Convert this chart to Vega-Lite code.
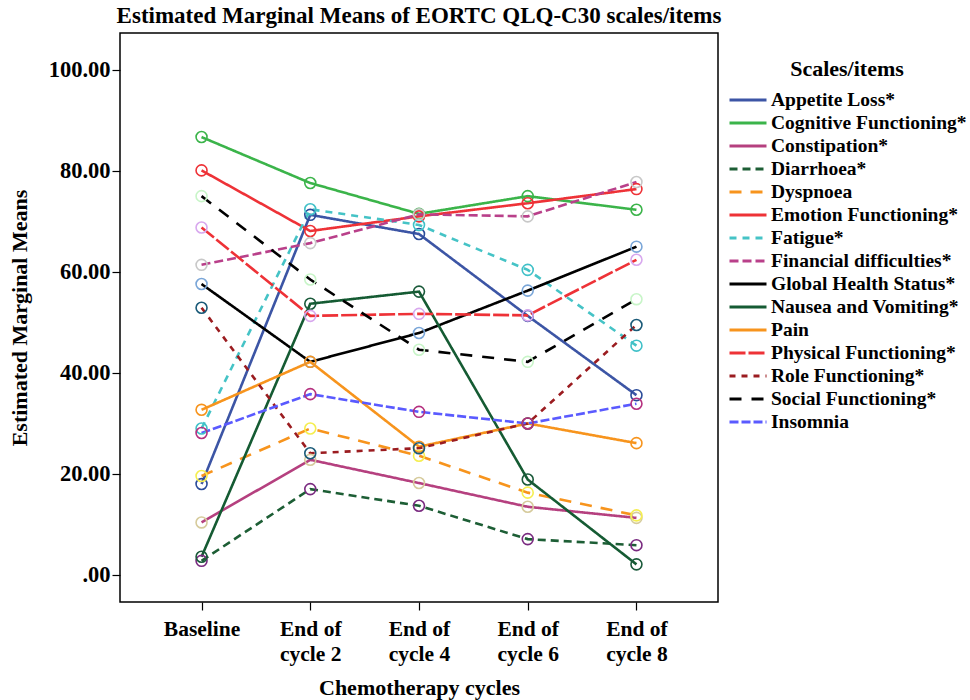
{
  "$schema": "https://vega.github.io/schema/vega-lite/v6.json",
  "autosize": "none",
  "width": 598,
  "height": 569,
  "padding": {"left": 120, "top": 33, "right": 252, "bottom": 98},
  "background": "white",
  "config": {
    "font": "Liberation Serif",
    "view": {"stroke": "black", "strokeWidth": 1.5},
    "axis": {"labelFont": "Liberation Serif", "titleFont": "Liberation Serif", "labelFontWeight": "bold", "titleFontWeight": "bold", "labelColor": "black", "titleColor": "black", "domain": false, "grid": false, "tickColor": "black", "tickWidth": 1.2, "tickSize": 8}
  },
  "title": {"text": "Estimated Marginal Means of EORTC QLQ-C30 scales/items", "font": "Liberation Serif", "fontSize": 23, "fontWeight": "bold", "color": "black", "anchor": "middle", "offset": 5},
  "data": {"values": [
    {"scale": "Appetite Loss*", "cycle": "Baseline", "value": 18.0},
    {"scale": "Appetite Loss*", "cycle": "End of cycle 2", "value": 71.3},
    {"scale": "Appetite Loss*", "cycle": "End of cycle 4", "value": 67.5},
    {"scale": "Appetite Loss*", "cycle": "End of cycle 6", "value": 51.3},
    {"scale": "Appetite Loss*", "cycle": "End of cycle 8", "value": 35.6},
    {"scale": "Cognitive Functioning*", "cycle": "Baseline", "value": 86.7},
    {"scale": "Cognitive Functioning*", "cycle": "End of cycle 2", "value": 77.6},
    {"scale": "Cognitive Functioning*", "cycle": "End of cycle 4", "value": 71.5},
    {"scale": "Cognitive Functioning*", "cycle": "End of cycle 6", "value": 75.0},
    {"scale": "Cognitive Functioning*", "cycle": "End of cycle 8", "value": 72.3},
    {"scale": "Constipation*", "cycle": "Baseline", "value": 10.4},
    {"scale": "Constipation*", "cycle": "End of cycle 2", "value": 22.8},
    {"scale": "Constipation*", "cycle": "End of cycle 4", "value": 18.2},
    {"scale": "Constipation*", "cycle": "End of cycle 6", "value": 13.5},
    {"scale": "Constipation*", "cycle": "End of cycle 8", "value": 11.3},
    {"scale": "Diarrhoea*", "cycle": "Baseline", "value": 2.8},
    {"scale": "Diarrhoea*", "cycle": "End of cycle 2", "value": 17.0},
    {"scale": "Diarrhoea*", "cycle": "End of cycle 4", "value": 13.7},
    {"scale": "Diarrhoea*", "cycle": "End of cycle 6", "value": 7.1},
    {"scale": "Diarrhoea*", "cycle": "End of cycle 8", "value": 5.9},
    {"scale": "Dyspnoea", "cycle": "Baseline", "value": 19.6},
    {"scale": "Dyspnoea", "cycle": "End of cycle 2", "value": 29.0},
    {"scale": "Dyspnoea", "cycle": "End of cycle 4", "value": 23.6},
    {"scale": "Dyspnoea", "cycle": "End of cycle 6", "value": 16.3},
    {"scale": "Dyspnoea", "cycle": "End of cycle 8", "value": 11.8},
    {"scale": "Emotion Functioning*", "cycle": "Baseline", "value": 80.1},
    {"scale": "Emotion Functioning*", "cycle": "End of cycle 2", "value": 68.1},
    {"scale": "Emotion Functioning*", "cycle": "End of cycle 4", "value": 71.0},
    {"scale": "Emotion Functioning*", "cycle": "End of cycle 6", "value": 73.6},
    {"scale": "Emotion Functioning*", "cycle": "End of cycle 8", "value": 76.4},
    {"scale": "Fatigue*", "cycle": "Baseline", "value": 29.0},
    {"scale": "Fatigue*", "cycle": "End of cycle 2", "value": 72.4},
    {"scale": "Fatigue*", "cycle": "End of cycle 4", "value": 69.3},
    {"scale": "Fatigue*", "cycle": "End of cycle 6", "value": 60.4},
    {"scale": "Fatigue*", "cycle": "End of cycle 8", "value": 45.4},
    {"scale": "Financial difficulties*", "cycle": "Baseline", "value": 61.4},
    {"scale": "Financial difficulties*", "cycle": "End of cycle 2", "value": 65.7},
    {"scale": "Financial difficulties*", "cycle": "End of cycle 4", "value": 71.4},
    {"scale": "Financial difficulties*", "cycle": "End of cycle 6", "value": 71.0},
    {"scale": "Financial difficulties*", "cycle": "End of cycle 8", "value": 77.8},
    {"scale": "Global Health Status*", "cycle": "Baseline", "value": 57.6},
    {"scale": "Global Health Status*", "cycle": "End of cycle 2", "value": 42.2},
    {"scale": "Global Health Status*", "cycle": "End of cycle 4", "value": 47.9},
    {"scale": "Global Health Status*", "cycle": "End of cycle 6", "value": 56.3},
    {"scale": "Global Health Status*", "cycle": "End of cycle 8", "value": 65.0},
    {"scale": "Nausea and Vomiting*", "cycle": "Baseline", "value": 3.6},
    {"scale": "Nausea and Vomiting*", "cycle": "End of cycle 2", "value": 53.7},
    {"scale": "Nausea and Vomiting*", "cycle": "End of cycle 4", "value": 56.1},
    {"scale": "Nausea and Vomiting*", "cycle": "End of cycle 6", "value": 18.9},
    {"scale": "Nausea and Vomiting*", "cycle": "End of cycle 8", "value": 2.1},
    {"scale": "Pain", "cycle": "Baseline", "value": 32.7},
    {"scale": "Pain", "cycle": "End of cycle 2", "value": 42.2},
    {"scale": "Pain", "cycle": "End of cycle 4", "value": 25.4},
    {"scale": "Pain", "cycle": "End of cycle 6", "value": 30.0},
    {"scale": "Pain", "cycle": "End of cycle 8", "value": 26.1},
    {"scale": "Physical Functioning*", "cycle": "Baseline", "value": 68.8},
    {"scale": "Physical Functioning*", "cycle": "End of cycle 2", "value": 51.3},
    {"scale": "Physical Functioning*", "cycle": "End of cycle 4", "value": 51.7},
    {"scale": "Physical Functioning*", "cycle": "End of cycle 6", "value": 51.4},
    {"scale": "Physical Functioning*", "cycle": "End of cycle 8", "value": 62.4},
    {"scale": "Role Functioning*", "cycle": "Baseline", "value": 52.9},
    {"scale": "Role Functioning*", "cycle": "End of cycle 2", "value": 24.1},
    {"scale": "Role Functioning*", "cycle": "End of cycle 4", "value": 25.1},
    {"scale": "Role Functioning*", "cycle": "End of cycle 6", "value": 30.0},
    {"scale": "Role Functioning*", "cycle": "End of cycle 8", "value": 49.5},
    {"scale": "Social Functioning*", "cycle": "Baseline", "value": 75.0},
    {"scale": "Social Functioning*", "cycle": "End of cycle 2", "value": 58.5},
    {"scale": "Social Functioning*", "cycle": "End of cycle 4", "value": 44.6},
    {"scale": "Social Functioning*", "cycle": "End of cycle 6", "value": 42.2},
    {"scale": "Social Functioning*", "cycle": "End of cycle 8", "value": 54.6},
    {"scale": "Insomnia", "cycle": "Baseline", "value": 28.1},
    {"scale": "Insomnia", "cycle": "End of cycle 2", "value": 35.8},
    {"scale": "Insomnia", "cycle": "End of cycle 4", "value": 32.3},
    {"scale": "Insomnia", "cycle": "End of cycle 6", "value": 30.0},
    {"scale": "Insomnia", "cycle": "End of cycle 8", "value": 33.9}
  ]},
  "encoding": {
    "x": {"field": "cycle", "type": "ordinal", "scale": {"type": "point", "padding": 0.75},
      "sort": ["Baseline", "End of cycle 2", "End of cycle 4", "End of cycle 6", "End of cycle 8"],
      "axis": {"title": "Chemotherapy cycles", "titleFontSize": 22, "titlePadding": 13, "labelFontSize": 21.5, "labelAngle": 0, "labelPadding": 8, "labelLineHeight": 25,
        "labelExpr": "datum.label == 'Baseline' ? 'Baseline' : ['End of', replace(datum.label, 'End of ', '')]"}},
    "y": {"field": "value", "type": "quantitative", "scale": {"domain": [-5.35, 107.3], "nice": false, "zero": false},
      "axis": {"title": "Estimated Marginal Means", "titleFontSize": 22, "titlePadding": 17, "labelFontSize": 22.5, "labelPadding": 2, "values": [0, 20, 40, 60, 80, 100],
        "labelExpr": "datum.value == 0 ? '.00' : format(datum.value, '.2f')"}}
  },
  "layer": [
    {
      "mark": {"type": "line", "strokeWidth": 2.6},
      "encoding": {
        "color": {"field": "scale", "type": "nominal",
          "scale": {"domain": ["Appetite Loss*", "Cognitive Functioning*", "Constipation*", "Diarrhoea*", "Dyspnoea", "Emotion Functioning*", "Fatigue*", "Financial difficulties*", "Global Health Status*", "Nausea and Vomiting*", "Pain", "Physical Functioning*", "Role Functioning*", "Social Functioning*", "Insomnia"],
            "range": ["#3c55a5", "#3bb44a", "#b5407f", "#1d5e35", "#f7941d", "#ee3237", "#45c3c6", "#b9408a", "#000000", "#155b33", "#f7941d", "#ee3237", "#9b1c20", "#000000", "#5a5aff"]},
          "legend": {"title": "Scales/items", "orient": "none", "legendX": 608, "legendY": 26, "titleFont": "Liberation Serif", "titleFontSize": 22, "titleFontWeight": "bold", "titleColor": "black", "titleAnchor": "middle", "titlePadding": 9,
            "labelFont": "Liberation Serif", "labelFontSize": 19.5, "labelFontWeight": "bold", "labelColor": "black", "symbolType": "stroke", "symbolSize": 1369, "symbolStrokeWidth": 3, "clipHeight": 20, "rowPadding": 3, "labelOffset": 3, "labelLimit": 300}},
        "strokeDash": {"field": "scale", "type": "nominal",
          "scale": {"domain": ["Appetite Loss*", "Cognitive Functioning*", "Constipation*", "Diarrhoea*", "Dyspnoea", "Emotion Functioning*", "Fatigue*", "Financial difficulties*", "Global Health Status*", "Nausea and Vomiting*", "Pain", "Physical Functioning*", "Role Functioning*", "Social Functioning*", "Insomnia"],
            "range": [[1, 0], [1, 0], [1, 0], [8, 5], [12, 9], [1, 0], [7, 6], [9, 4], [1, 0], [1, 0], [1, 0], [16, 3], [6, 6], [12, 10], [9, 3]]}}
      }
    },
    {
      "mark": {"type": "point", "shape": "circle", "filled": false, "size": 120, "strokeWidth": 1.6, "opacity": 1},
      "encoding": {
        "stroke": {"field": "scale", "type": "nominal",
          "scale": {"domain": ["Appetite Loss*", "Cognitive Functioning*", "Constipation*", "Diarrhoea*", "Dyspnoea", "Emotion Functioning*", "Fatigue*", "Financial difficulties*", "Global Health Status*", "Nausea and Vomiting*", "Pain", "Physical Functioning*", "Role Functioning*", "Social Functioning*", "Insomnia"],
            "range": ["#2b4c9a", "#3bb44a", "#d6cb9c", "#7a2a80", "#f5ee50", "#ee3237", "#40c0c8", "#c8c8c8", "#7aa6d8", "#1a5a3a", "#f7941d", "#d8a8ee", "#1a5a78", "#c8f5c8", "#b5307f"]},
          "legend": null}
      }
    }
  ]
}
